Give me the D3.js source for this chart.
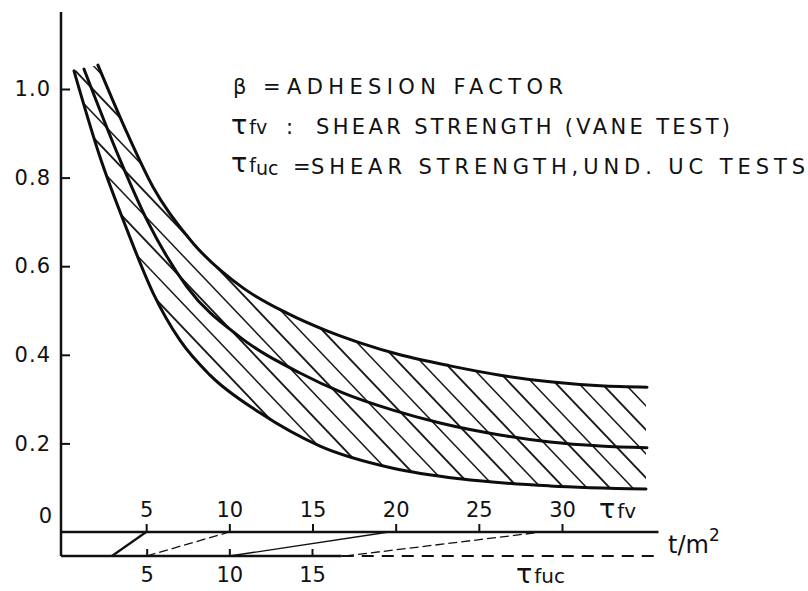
<!DOCTYPE html>
<html>
<head>
<meta charset="utf-8">
<script src="https://cdn.jsdelivr.net/npm/d3@7"></script>
<style>
  body { margin: 0; background: #fff; }
  svg { display: block; }
  text { font-family: "DejaVu Sans", sans-serif; fill: #111; }
</style>
</head>
<body>
<div id="chart"></div>
<script>
// adhesion factor beta against shear strength
var upperTau  = [2.10, 3.85, 5.41, 7.82, 10.82, 13.47, 15.87, 17.86, 20.26, 23.27, 26.28, 29.28, 32.29, 35.11];
var upperBeta = [1.054, 0.901, 0.779, 0.652, 0.551, 0.494, 0.454, 0.427, 0.400, 0.375, 0.354, 0.339, 0.330, 0.327];

var middleTau  = [1.26, 3.43, 5.05, 7.46, 10.64, 14.25, 16.83, 19.84, 22.67, 26.27, 29.28, 32.29, 35.11];
var middleBeta = [1.045, 0.840, 0.704, 0.553, 0.440, 0.359, 0.314, 0.275, 0.246, 0.219, 0.203, 0.194, 0.190];

var lowerTau  = [0.66, 2.22, 3.85, 5.41, 7.03, 8.84, 11.84, 15.45, 19.84, 23.87, 29.28, 35.05];
var lowerBeta = [1.041, 0.847, 0.682, 0.540, 0.433, 0.354, 0.269, 0.194, 0.144, 0.120, 0.104, 0.097];

var betaTicks  = [0.2, 0.4, 0.6, 0.8, 1.0];
var betaLabels = ["0.2", "0.4", "0.6", "0.8", "1.0"];
var fvTicks  = [5, 10, 15, 20, 25, 30];
var fucTicks = [5, 10, 15];

// tau_fuc -> tau_fv conversion strokes between the two scales
var convFuc   = [2.9, 5, 10, 17];
var convFv    = [5, 10, 19.6, 28.8];
var convStyle = ["solid", "dash", "thin", "dash"];

var width = 808, height = 591;

var svg = d3.select("#chart")
  .append("svg")
  .attr("width", width)
  .attr("height", height);

var axisX = 61;
var fvY = 532, fucY = 556;

var y = d3.scaleLinear().domain([0, 1]).range([532, 89]);
var xfv = d3.scaleLinear().domain([0, 30]).range([63, 562]);
var xfuc = d3.scaleLinear().domain([0, 15]).range([64, 312]);

var toPts = (xs, ys) => xs.map((v, i) => [xfv(v), y(ys[i])]);
var lower = toPts(lowerTau, lowerBeta);
var middle = toPts(middleTau, middleBeta);
var upper = toPts(upperTau, upperBeta);

var line = d3.line().curve(d3.curveMonotoneX);

// hatching sits above the lower curve and below the upper one
var lo0 = lower[0], lo1 = lower[lower.length - 1];
var up1 = upper[upper.length - 1];
svg.append("clipPath").attr("id", "aboveLower")
  .append("path")
  .attr("d", line(lower) + "L" + lo1[0] + ",0L" + lo0[0] + ",0Z");
svg.append("clipPath").attr("id", "belowUpper")
  .append("path")
  .attr("d", line(upper) + "L" + up1[0] + ",600L20,600L20," + (lo0[1] + 15) + "L" + lo0[0] + "," + lo0[1] + "Z");

var slope = 1.05, step = 24, b0 = 386 - slope * 627;
var hatch = d3.range(-2, 20).map(k => b0 + k * step);

svg.append("g")
  .attr("clip-path", "url(#aboveLower)")
  .append("g")
  .attr("clip-path", "url(#belowUpper)")
  .selectAll("line")
  .data(hatch)
  .enter().append("line")
  .attr("x1", 40).attr("y1", d => slope * 40 + d)
  .attr("x2", 720).attr("y2", d => slope * 720 + d)
  .attr("stroke", "#1a1a1a")
  .attr("stroke-width", (d, i) => i % 2 ? 1.9 : 1.5);

svg.selectAll(".curve")
  .data([lower, middle, upper])
  .enter().append("path")
  .attr("class", "curve")
  .attr("d", line)
  .attr("fill", "none")
  .attr("stroke", "#0d0d0d")
  .attr("stroke-width", 3)
  .attr("stroke-linecap", "round");

// vertical beta axis
svg.append("line")
  .attr("x1", axisX).attr("x2", axisX)
  .attr("y1", 12).attr("y2", fucY)
  .attr("stroke", "#111").attr("stroke-width", 2.5);

var yAxis = svg.append("g")
  .attr("transform", "translate(" + axisX + ",0)")
  .call(d3.axisLeft(y).tickValues(betaTicks)
    .tickFormat((d, i) => betaLabels[i])
    .tickSizeInner(-9).tickSizeOuter(0).tickPadding(10));
yAxis.select(".domain").remove();
yAxis.selectAll("line").attr("stroke", "#111").attr("stroke-width", 2);
yAxis.selectAll("text").attr("font-size", 21).attr("font-family", "DejaVu Sans")
  .attr("letter-spacing", 1).attr("fill", "#111");

svg.append("text").attr("x", 52).attr("y", 523)
  .attr("text-anchor", "end").attr("font-size", 21).text("0");

// tau_fv scale
svg.append("line")
  .attr("x1", axisX).attr("x2", xfv(35.8))
  .attr("y1", fvY).attr("y2", fvY)
  .attr("stroke", "#111").attr("stroke-width", 2.5);

var fvAxis = svg.append("g")
  .attr("transform", "translate(0," + fvY + ")")
  .call(d3.axisTop(xfv).tickValues(fvTicks)
    .tickSizeInner(8).tickSizeOuter(0).tickPadding(7));
fvAxis.select(".domain").remove();
fvAxis.selectAll("line").attr("stroke", "#111").attr("stroke-width", 2);
fvAxis.selectAll("text").attr("font-size", 21).attr("font-family", "DejaVu Sans").attr("fill", "#111");

// tau_fuc scale, solid then dashed
svg.append("line")
  .attr("x1", axisX).attr("x2", xfuc(16.8))
  .attr("y1", fucY).attr("y2", fucY)
  .attr("stroke", "#111").attr("stroke-width", 2.5);
svg.append("line")
  .attr("x1", xfuc(16.8)).attr("x2", xfuc(36))
  .attr("y1", fucY).attr("y2", fucY)
  .attr("stroke", "#111").attr("stroke-width", 2)
  .attr("stroke-dasharray", "12,8");

var fucAxis = svg.append("g")
  .attr("transform", "translate(0," + fucY + ")")
  .call(d3.axisBottom(xfuc).tickValues(fucTicks)
    .tickSizeInner(-7).tickSizeOuter(0).tickPadding(11));
fucAxis.select(".domain").remove();
fucAxis.selectAll("line").attr("stroke", "#111").attr("stroke-width", 2);
fucAxis.selectAll("text").attr("font-size", 21).attr("font-family", "DejaVu Sans").attr("fill", "#111");

svg.selectAll(".conv")
  .data(convFuc)
  .enter().append("line")
  .attr("class", "conv")
  .attr("x1", d => xfuc(d)).attr("y1", fucY)
  .attr("x2", (d, i) => xfv(convFv[i])).attr("y2", fvY)
  .attr("stroke", "#111")
  .attr("stroke-width", (d, i) => convStyle[i] == "solid" ? 2.2 : 1.3)
  .attr("stroke-dasharray", (d, i) => convStyle[i] == "dash" ? "9,4" : null);

// axis names
svg.append("text").attr("x", 599).attr("y", 518).attr("font-size", 27)
  .html('τ<tspan font-size="20" dx="2">fv</tspan>');
svg.append("text").attr("x", 516).attr("y", 583).attr("font-size", 27)
  .html('τ<tspan font-size="20" dx="2">fuc</tspan>');
svg.append("text").attr("x", 668).attr("y", 553).attr("font-size", 24)
  .html('t/m<tspan font-size="17" dy="-12">2</tspan>');

// legend
var legend = svg.append("g").attr("font-size", 21);
legend.append("text").attr("x", 233).attr("y", 94).text("β");
legend.append("text").attr("x", 263).attr("y", 94).text("=");
legend.append("text").attr("x", 287).attr("y", 94)
  .attr("textLength", 276).attr("lengthAdjust", "spacing")
  .text("ADHESION FACTOR");

legend.append("text").attr("x", 231).attr("y", 134).attr("font-size", 27)
  .html('τ<tspan font-size="19" dx="2">fv</tspan>');
legend.append("text").attr("x", 286).attr("y", 134).text(":");
legend.append("text").attr("x", 316).attr("y", 134)
  .attr("textLength", 414).attr("lengthAdjust", "spacing")
  .text("SHEAR STRENGTH (VANE TEST)");

legend.append("text").attr("x", 231).attr("y", 172).attr("font-size", 27)
  .html('τ<tspan font-size="19" dx="2">f</tspan><tspan font-size="19" dy="3">uc</tspan>');
legend.append("text").attr("x", 293).attr("y", 174).text("=");
legend.append("text").attr("x", 311).attr("y", 174)
  .attr("textLength", 494).attr("lengthAdjust", "spacing")
  .text("SHEAR STRENGTH,UND. UC TESTS");
</script>
</body>
</html>
